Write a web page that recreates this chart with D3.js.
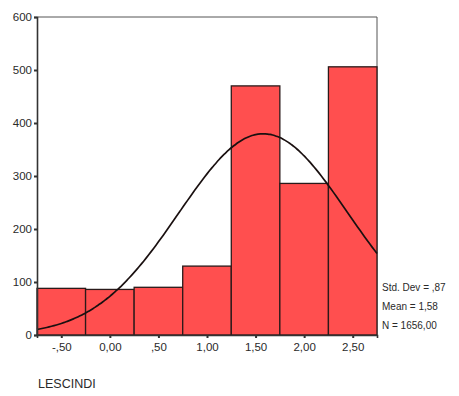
<!DOCTYPE html>
<html>
<head>
<meta charset="utf-8">
<script src="https://cdn.jsdelivr.net/npm/d3@7"></script>
<style>
  body { margin: 0; background: #fff; }
  text { font-family: "Liberation Sans", Arial, sans-serif; fill: #2a2a2a; }
</style>
</head>
<body>
<div id="chart"></div>
<script>
// bins of LESCINDI (width 0.5) and their counts
const binStarts = [-0.75, -0.25, 0.25, 0.75, 1.25, 1.75, 2.25];
const counts = [88, 86, 90, 130, 470, 286, 506];
const xTicks = [-0.5, 0, 0.5, 1, 1.5, 2, 2.5];
const xTickLabels = ["-,50", "0,00", ",50", "1,00", "1,50", "2,00", "2,50"];
const yTicks = [0, 100, 200, 300, 400, 500, 600];
const statLabels = ["Std. Dev = ,87", "Mean = 1,58", "N = 1656,00"];
const stdDev = 0.87, mean = 1.58, n = 1656, binWidth = 0.5;

const width = 459, height = 396;
const margin = { top: 17, left: 37, right: 82, bottom: 61 };

const svg = d3.select("#chart").append("svg")
  .attr("width", width).attr("height", height);

const x = d3.scaleLinear().domain([-0.75, 2.75]).range([margin.left, width - margin.right]);
const y = d3.scaleLinear().domain([0, 600]).range([height - margin.bottom, margin.top]);

// frame (top + right)
svg.append("path")
  .attr("d", `M${x(-0.75)},${y(600)}H${x(2.75)}V${y(0)}`)
  .attr("fill", "none").attr("stroke", "#555").attr("stroke-width", 1);

// bars
svg.selectAll("rect.bar")
  .data(binStarts)
  .join("rect")
  .attr("class", "bar")
  .attr("x", d => x(d))
  .attr("width", d => x(d + binWidth) - x(d))
  .attr("y", (d, i) => y(counts[i]))
  .attr("height", (d, i) => y(0) - y(counts[i]))
  .attr("fill", "#ff4f4f")
  .attr("stroke", "#2a1a1a")
  .attr("stroke-width", 1.3);

// normal curve from the shown stats
const curvePts = d3.range(-0.75, 2.7501, 0.025).map(v => {
  const z = (v - mean) / stdDev;
  return [v, n * binWidth / (stdDev * Math.sqrt(2 * Math.PI)) * Math.exp(-0.5 * z * z)];
});
svg.append("path")
  .datum(curvePts)
  .attr("d", d3.line().x(d => x(d[0])).y(d => y(d[1])).curve(d3.curveBasis))
  .attr("fill", "none").attr("stroke", "#1a1010").attr("stroke-width", 1.7);

// y axis
const yAxis = svg.append("g")
  .attr("transform", `translate(${margin.left},0)`)
  .call(d3.axisLeft(y).tickValues(yTicks).tickSize(3).tickPadding(2).tickFormat(d3.format("d")));
yAxis.select(".domain").attr("stroke", "#333").attr("stroke-width", 1.6);
yAxis.selectAll(".tick line").attr("stroke", "#333").attr("stroke-width", 2);
yAxis.selectAll("text").style("font-size", "11.5px").style("fill", "#2a2a2a");

// x axis
const xAxis = svg.append("g")
  .attr("transform", `translate(0,${y(0)})`)
  .call(d3.axisBottom(x).tickValues(xTicks).tickSize(3).tickPadding(5)
    .tickFormat((d, i) => xTickLabels[i]));
xAxis.select(".domain").attr("stroke", "#333").attr("stroke-width", 1.6);
xAxis.selectAll(".tick line").attr("stroke", "#333").attr("stroke-width", 2);
xAxis.selectAll("text").style("font-size", "11.5px").style("fill", "#2a2a2a");

// stats
svg.selectAll("text.stat")
  .data(statLabels)
  .join("text")
  .attr("class", "stat")
  .attr("x", 382)
  .attr("y", (d, i) => 291 + i * 19)
  .style("font-size", "10px")
  .text(d => d);

// variable name
svg.append("text")
  .attr("x", 38).attr("y", 388)
  .style("font-size", "12.5px")
  .text("LESCINDI");
</script>
</body>
</html>
